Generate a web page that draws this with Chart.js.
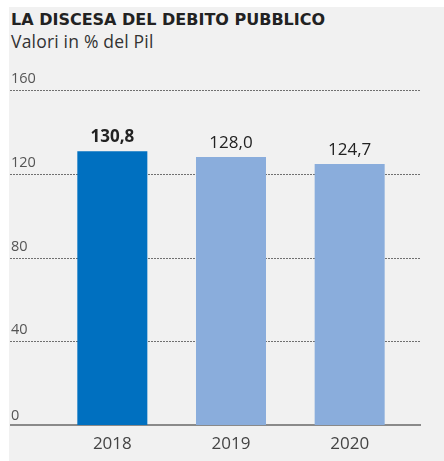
<!DOCTYPE html>
<html><head><meta charset="utf-8">
<script src="https://cdn.jsdelivr.net/npm/chart.js@4"></script>
<style>
html,body{margin:0;padding:0;background:#fff;}
#bg{position:absolute;left:9px;top:7px;width:435px;height:454px;background:#f1f1f1;}
#t{position:absolute;left:11px;top:11px;font:bold 16px "DejaVu Sans";color:#222;line-height:18px;}
#s{position:absolute;left:11px;top:30px;font:17.5px "Open Sans";color:#333;line-height:22px;letter-spacing:0.2px;}
#wrap{position:absolute;left:0;top:0;width:444px;height:461px;}
</style></head><body>
<div id="bg"></div>
<div id="t">LA DISCESA DEL DEBITO PUBBLICO</div>
<div id="s">Valori in % del Pil</div>
<div id="wrap"><canvas id="c" width="444" height="461"></canvas></div>
<script>
const categories = ["2018", "2019", "2020"];
const values = [130.8, 128.0, 124.7];
const valueLabels = ["130,8", "128,0", "124,7"];
const yTicks = [0, 40, 80, 120, 160];
const barColors = ["#0070c0", "#8aaddc", "#8aaddc"];

const gridPlugin = {
  id: 'grid',
  beforeDatasetsDraw(chart) {
    const ctx = chart.ctx, y = chart.scales.y;
    ctx.save();
    ctx.font = '14.5px "Open Sans"';
    ctx.fillStyle = '#555';
    ctx.textAlign = 'left';
    ctx.textBaseline = 'alphabetic';
    yTicks.forEach(v => {
      const py = Math.round(y.getPixelForValue(v));
      if (v === 0) {
        ctx.strokeStyle = '#8a8a8a'; ctx.lineWidth = 2; ctx.setLineDash([]);
        ctx.beginPath(); ctx.moveTo(10, py); ctx.lineTo(421, py); ctx.stroke();
      } else {
        ctx.strokeStyle = '#707070'; ctx.lineWidth = 1; ctx.setLineDash([2, 1]);
        ctx.beginPath(); ctx.moveTo(10, py + 0.5); ctx.lineTo(421, py + 0.5); ctx.stroke();
      }
      ctx.fillText(String(v), 11, py - (v === 0 ? 5 : 7));
    });
    ctx.restore();
  },
  afterDatasetsDraw(chart) {
    const ctx = chart.ctx;
    const meta = chart.getDatasetMeta(0);
    ctx.save();
    ctx.textAlign = 'center';
    ctx.textBaseline = 'alphabetic';
    ctx.fillStyle = '#222';
    meta.data.forEach((bar, i) => {
      ctx.font = (i === 0 ? 'bold ' : '') + '17px "Open Sans"';
      ctx.fillText(valueLabels[i], bar.x, bar.y - 9);
    });
    ctx.restore();
  }
};

new Chart(document.getElementById('c'), {
  type: 'bar',
  data: {
    labels: categories,
    datasets: [{ data: values, backgroundColor: barColors, borderWidth: 0,
      barPercentage: 0.59, categoryPercentage: 1 }]
  },
  options: {
    responsive: false,
    animation: false,
    layout: { padding: { left: 53, right: 35, top: 90, bottom: 0 } },
    plugins: { legend: { display: false }, tooltip: { enabled: false } },
    scales: {
      x: {
        grid: { display: false, drawTicks: false },
        border: { display: false },
        ticks: { color: '#444', font: { family: 'Open Sans', size: 17 }, padding: 9 },
        afterFit(s) { s.height = 36; }
      },
      y: { display: false, min: 0, max: 160, ticks: { stepSize: 40 } }
    }
  },
  plugins: [gridPlugin]
});
</script>
</body></html>
